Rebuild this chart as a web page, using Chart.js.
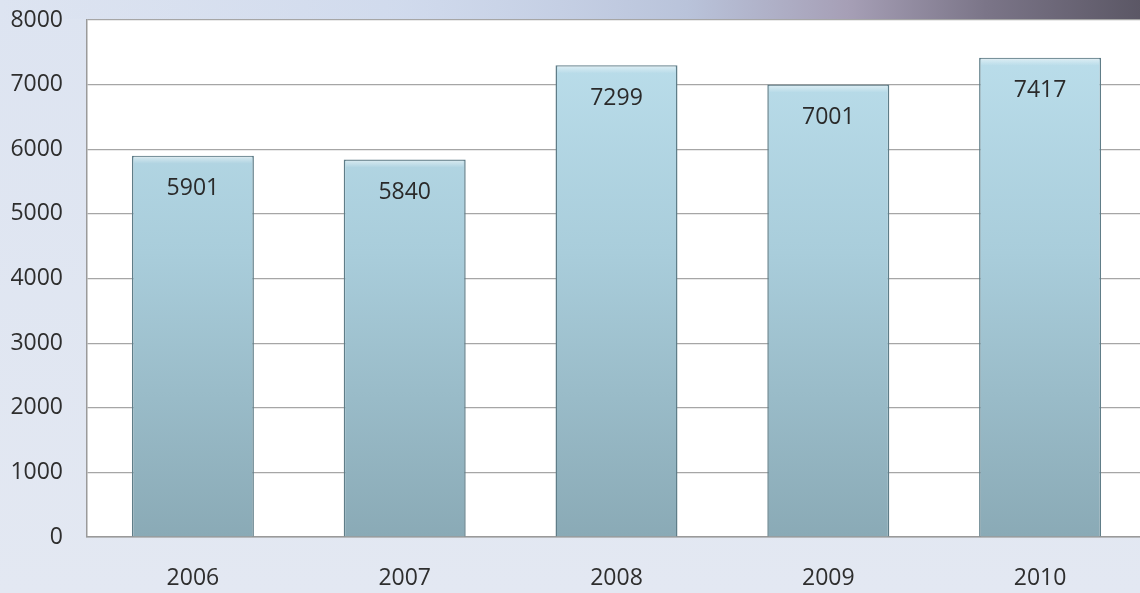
<!DOCTYPE html>
<html>
<head>
<meta charset="utf-8">
<script src="https://cdn.jsdelivr.net/npm/chart.js@4.4.0/dist/chart.umd.min.js"></script>
<style>
html,body{margin:0;padding:0;overflow:hidden;width:1140px;height:593px;background:#dfe5f0;}
#wrap{position:absolute;left:0;top:0;width:1146px;height:593px;}
</style>
</head>
<body>
<div id="wrap"><canvas id="c" width="1146" height="593"></canvas></div>
<script>
const categories = ['2006', '2007', '2008', '2009', '2010'];
const values = [5901, 5840, 7299, 7001, 7417];
const yTicks = [0, 1000, 2000, 3000, 4000, 5000, 6000, 7000, 8000];

const FONT = '"Open Sans", sans-serif';

const bgPlugin = {
  id: 'bg',
  beforeDraw(chart) {
    const {ctx, width, height, chartArea: a} = chart;
    ctx.save();
    const g = ctx.createLinearGradient(0, 0, 0, height);
    g.addColorStop(0, '#dde4f1');
    g.addColorStop(1, '#e3e8f2');
    ctx.fillStyle = g;
    ctx.fillRect(0, 0, width, height);
    const s = ctx.createLinearGradient(0, 0, width, 0);
    s.addColorStop(0, 'rgba(205,215,235,0)');
    s.addColorStop(0.35, 'rgba(200,212,234,0.6)');
    s.addColorStop(0.6, '#b9c3da');
    s.addColorStop(0.74, '#a69fb6');
    s.addColorStop(0.86, '#7b7588');
    s.addColorStop(1, '#5a5664');
    ctx.fillStyle = s;
    ctx.fillRect(0, 0, width, a.top - 1);
    ctx.fillStyle = '#ffffff';
    ctx.fillRect(a.left, a.top, a.right - a.left, a.bottom - a.top);
    ctx.restore();
  }
};

const labelPlugin = {
  id: 'barLabels',
  afterDatasetsDraw(chart) {
    const {ctx} = chart;
    const meta = chart.getDatasetMeta(0);
    ctx.save();
    meta.data.forEach((bar, i) => {
      const w = bar.width;
      const l = bar.x - w / 2;
      const hg = ctx.createLinearGradient(0, bar.y, 0, bar.y + 8);
      hg.addColorStop(0, 'rgba(255,255,255,0.55)');
      hg.addColorStop(1, 'rgba(255,255,255,0)');
      ctx.fillStyle = hg;
      ctx.fillRect(l + 2, bar.y + 1, w - 4, 8);
      ctx.fillStyle = '#2a2a2a';
      ctx.font = '23px ' + FONT;
      ctx.textAlign = 'center';
      ctx.textBaseline = 'middle';
      ctx.fillText(String(values[i]), bar.x, bar.y + 33);
    });
    ctx.restore();
  }
};

new Chart(document.getElementById('c'), {
  type: 'bar',
  data: {
    labels: categories,
    datasets: [{
      data: values,
      backgroundColor(ctx) {
        const a = ctx.chart.chartArea;
        if (!a) return '#a8ccd8';
        const g = ctx.chart.ctx.createLinearGradient(0, a.top, 0, a.bottom);
        g.addColorStop(0, '#bde0ed');
        g.addColorStop(0.45, '#a9cddb');
        g.addColorStop(1, '#8aaab6');
        return g;
      },
      borderColor: '#5f7d88',
      borderWidth: 1.5,
      barPercentage: 0.576,
      categoryPercentage: 1
    }]
  },
  options: {
    responsive: false,
    animation: false,
    devicePixelRatio: 1,
    layout: {padding: {top: 20, left: 0, right: 0, bottom: 0}},
    plugins: {legend: {display: false}, tooltip: {enabled: false}},
    scales: {
      x: {
        grid: {display: false, drawTicks: false},
        border: {display: true, color: '#9a9a9a', width: 1.5},
        ticks: {color: '#2e2e2e', font: {family: FONT, size: 23}, padding: 28},
        afterFit(s) { s.height = 56; s.paddingLeft = 0; s.paddingRight = 0; }
      },
      y: {
        min: 0, max: 8000,
        afterBuildTicks(s) { s.ticks = yTicks.map(v => ({value: v})); },
        grid: {color: '#a6a6a6', lineWidth: 1.2, drawTicks: false},
        border: {display: true, color: '#9a9a9a', width: 1.5},
        ticks: {color: '#2e2e2e', font: {family: FONT, size: 23}, padding: 24, callback: v => String(v)},
        afterFit(s) { s.width = 87; s.paddingTop = 0; s.paddingBottom = 0; }
      }
    }
  },
  plugins: [bgPlugin, labelPlugin]
});
</script>
</body>
</html>
